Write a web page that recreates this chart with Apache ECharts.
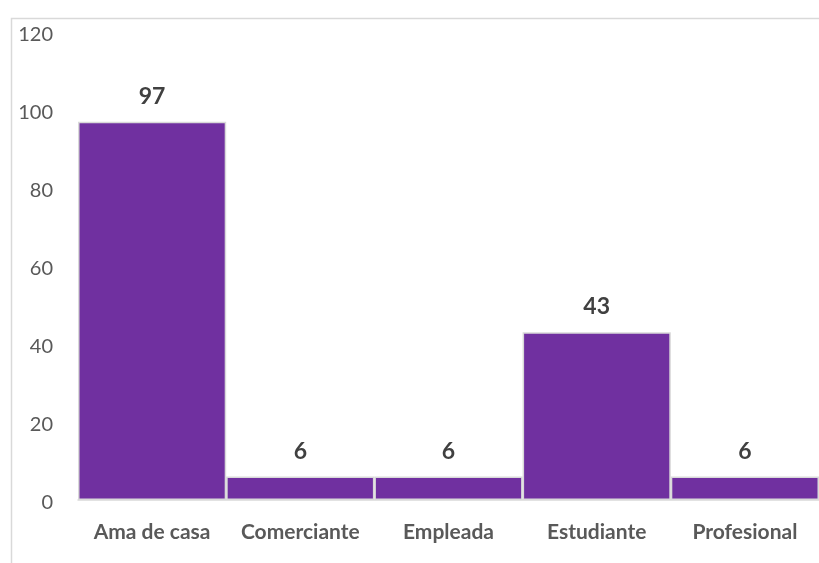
<!DOCTYPE html>
<html>
<head>
<meta charset="utf-8">
<script src="https://cdn.jsdelivr.net/npm/echarts@6/dist/echarts.min.js"></script>
<style>
html, body { margin: 0; padding: 0; background: #fff; }
#chart { width: 819px; height: 563px; }
</style>
</head>
<body>
<div id="chart"></div>
<script>
// Ocupación de las participantes
const categories = ['Ama de casa', 'Comerciante', 'Empleada', 'Estudiante', 'Profesional'];
const counts = [97, 6, 6, 43, 6];
const yTicks = { min: 0, max: 120, interval: 20 };

const chart = echarts.init(document.getElementById('chart'));
chart.setOption({
  animation: false,
  backgroundColor: '#ffffff',
  graphic: [{
    type: 'rect',
    shape: { x: 11.5, y: 18.5, width: 900, height: 700 },
    style: { fill: 'none', stroke: '#d9d9d9', lineWidth: 1.5 },
    silent: true
  }],
  grid: { left: 78, right: -2, top: 32, bottom: 63 },
  xAxis: {
    type: 'category',
    data: categories,
    axisLine: { show: true, lineStyle: { color: '#d9d9d9', width: 1.5 } },
    axisTick: { show: false },
    axisLabel: {
      interval: 0, hideOverlap: false,
      color: '#595959', fontFamily: 'Lato', fontWeight: 'bold', fontSize: 21, margin: 22
    }
  },
  yAxis: {
    type: 'value',
    min: yTicks.min, max: yTicks.max, interval: yTicks.interval,
    splitLine: { show: false },
    axisLine: { show: false },
    axisTick: { show: false },
    axisLabel: {
      margin: 25,
      formatter: '{t|{value}}',
      rich: {
        t: { color: '#595959', fontFamily: 'Lato', fontSize: 20, padding: [6, 0, 0, 0] }
      }
    }
  },
  series: [{
    type: 'bar',
    data: counts,
    barWidth: '100%',
    barGap: '0%',
    itemStyle: { color: '#7030a0', borderColor: '#d9d9d9', borderWidth: 1.5 },
    label: {
      show: true, position: 'top', distance: 14,
      color: '#404040', fontFamily: 'Lato', fontWeight: 'bold', fontSize: 23
    }
  }]
});
</script>
</body>
</html>
